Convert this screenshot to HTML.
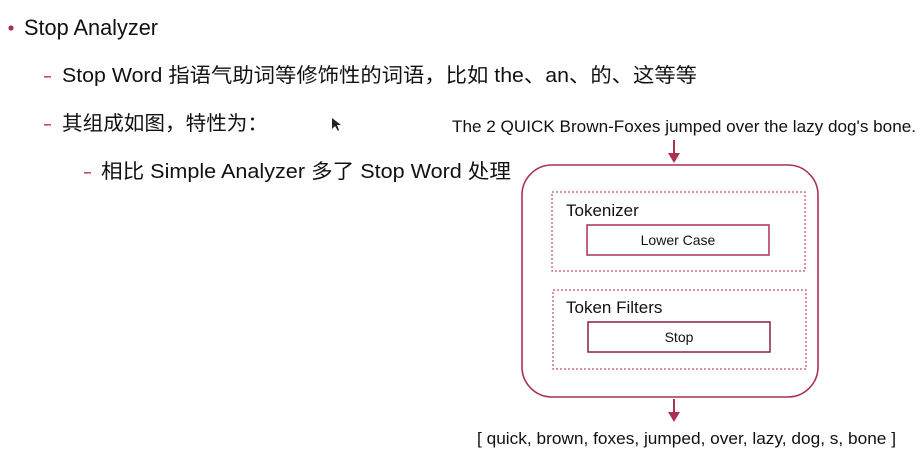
<!DOCTYPE html>
<html><head><meta charset="utf-8"><style>
html,body{margin:0;padding:0;background:#fff;}
svg{display:block;}
text{font-family:"Liberation Sans","Noto Sans CJK SC",sans-serif;fill:#111;}
</style></head><body>
<svg width="920" height="464" viewBox="0 0 920 464" xmlns="http://www.w3.org/2000/svg">
<circle cx="11" cy="28" r="2.6" fill="#a8324f"/>
<text x="24" y="35" font-size="22" textLength="134" lengthAdjust="spacingAndGlyphs">Stop Analyzer</text>
<rect x="44" y="76" width="7" height="1.6" fill="#c0506a"/>
<text x="62" y="82" font-size="20" textLength="635" lengthAdjust="spacingAndGlyphs">Stop Word 指语气助词等修饰性的词语，比如 the、an、的、这等等</text>
<rect x="44" y="124" width="7" height="1.6" fill="#c0506a"/>
<text x="62" y="130" font-size="20" textLength="206" lengthAdjust="spacingAndGlyphs">其组成如图，特性为：</text>
<rect x="84" y="172" width="7" height="1.6" fill="#c0506a"/>
<text x="101" y="178" font-size="20" textLength="410" lengthAdjust="spacingAndGlyphs">相比 Simple Analyzer 多了 Stop Word 处理</text>
<path d="M332 118 L332 129 L335 126 L338 131 L339 130 L337 125 L341 125 Z" fill="#222"/>
<text x="452" y="132" font-size="17" textLength="464" lengthAdjust="spacingAndGlyphs">The 2 QUICK Brown-Foxes jumped over the lazy dog's bone.</text>
<line x1="674" y1="140" x2="674" y2="155" stroke="#a8324f" stroke-width="2"/>
<path d="M668 153 L680 153 L674 163 Z" fill="#a8324f"/>
<rect x="522" y="165" width="296" height="232" rx="30" fill="none" stroke="#a8324f" stroke-width="1.6"/>
<rect x="552" y="192" width="253" height="79" fill="none" stroke="#c0506a" stroke-width="1.2" stroke-dasharray="2,2"/>
<text x="566" y="216" font-size="17">Tokenizer</text>
<rect x="587" y="225" width="182" height="30" fill="none" stroke="#a8324f" stroke-width="1.5"/>
<text x="678" y="245" font-size="14" text-anchor="middle">Lower Case</text>
<rect x="553" y="290" width="253" height="79" fill="none" stroke="#c0506a" stroke-width="1.2" stroke-dasharray="2,2"/>
<text x="566" y="313" font-size="17">Token Filters</text>
<rect x="588" y="322" width="182" height="30" fill="none" stroke="#8a2040" stroke-width="1.5"/>
<text x="679" y="342" font-size="14" text-anchor="middle">Stop</text>
<line x1="674" y1="399" x2="674" y2="414" stroke="#a8324f" stroke-width="2"/>
<path d="M668 412 L680 412 L674 422 Z" fill="#a8324f"/>
<text x="477" y="444" font-size="17" textLength="419" lengthAdjust="spacingAndGlyphs">[ quick, brown, foxes, jumped, over, lazy, dog, s, bone ]</text>
</svg>
</body></html>
